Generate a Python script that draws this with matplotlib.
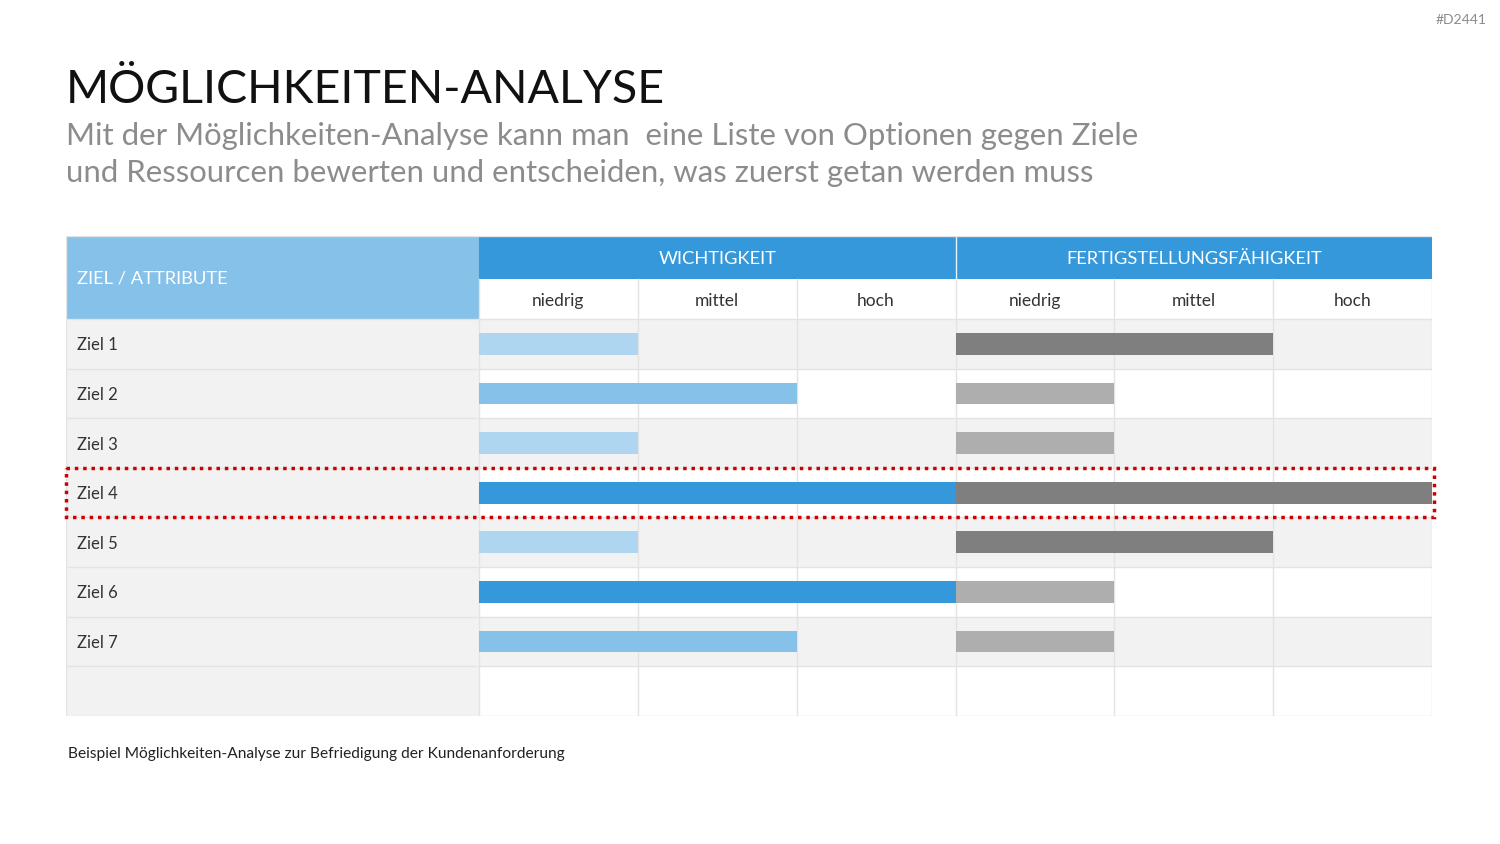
import matplotlib.pyplot as plt
from matplotlib.patches import Rectangle

plt.rcParams['font.family'] = ['Lato', 'DejaVu Sans']

# data
ziele = ["Ziel 1", "Ziel 2", "Ziel 3", "Ziel 4", "Ziel 5", "Ziel 6", "Ziel 7", ""]
stufen = ["niedrig", "mittel", "hoch"]
gruppen = ["WICHTIGKEIT", "FERTIGSTELLUNGSFÄHIGKEIT"]
wichtigkeit = [1, 2, 1, 3, 1, 3, 2]
fertigstellung = [2, 1, 1, 3, 2, 1, 1]
markiert = 3  # Ziel 4

blau = {1: "#AED6F1", 2: "#85C1E9", 3: "#3498DB"}
grau = {1: "#AEAEAE", 2: "#7F7F7F", 3: "#7F7F7F"}
linie = "#E3E3E3"

fig = plt.figure(figsize=(15, 8.44), dpi=100)

# title / subtitle
fig.text(0.044, 1 - 103 / 844, "MÖGLICHKEITEN-ANALYSE", fontsize=33.5, color="#111111", va="baseline")
fig.text(0.044, 1 - 145 / 844, "Mit der Möglichkeiten-Analyse kann man  eine Liste von Optionen gegen Ziele",
         fontsize=22.4, color="#8C8C8C", va="baseline")
fig.text(0.044, 1 - 182 / 844, "und Ressourcen bewerten und entscheiden, was zuerst getan werden muss",
         fontsize=22.4, color="#8C8C8C", va="baseline")
fig.text(0.991, 1 - 20 / 844, "#D2441", fontsize=10, color="#8C8C8C", ha="right", va="center")
fig.text(0.045, 1 - 754 / 844, "Beispiel Möglichkeiten-Analyse zur Befriedigung der Kundenanforderung",
         fontsize=11.2, color="#222222", va="center")

# table axes: x in column units, y in row units (0 = first data row)
ax = fig.add_axes([0.044, 0.1517, 0.9107, 0.5687])
lab_w = 2.6
h1, h2 = 0.867, 0.806
ax.set_xlim(-lab_w, 6)
ax.set_ylim(len(ziele), -(h1 + h2))
ax.axis("off")

n = len(ziele)
# row backgrounds
for i in range(n):
    ax.add_patch(Rectangle((-lab_w, i), lab_w, 1, fc="#F2F2F2", ec="none"))
    ax.add_patch(Rectangle((0, i), 6, 1, fc="#F2F2F2" if i % 2 == 0 else "white", ec="none"))
    ax.text(-lab_w + 0.07, i + 0.5, ziele[i], fontsize=12, color="#333333", va="center_baseline")

# header
ax.add_patch(Rectangle((-lab_w, -(h1 + h2)), lab_w, h1 + h2, fc="#85C1E9", ec="none"))
ax.text(-lab_w + 0.07, -(h1 + h2) / 2, "ZIEL / ATTRIBUTE", fontsize=13.2, color="white", va="center_baseline")
for g, name in enumerate(gruppen):
    ax.add_patch(Rectangle((3 * g, -(h1 + h2)), 3, h1, fc="#3498DB", ec="none"))
    ax.text(3 * g + 1.5, -(h1 + h2) + h1 / 2, name, fontsize=13.2, color="white",
            ha="center", va="center_baseline")
    for k, s in enumerate(stufen):
        ax.text(3 * g + k + 0.5, -h2 / 2, s, fontsize=12.5, color="#333333",
                ha="center", va="center_baseline")

# grid lines
for x in range(0, 7):
    ax.plot([x, x], [-h2, n], color=linie, lw=1)
ax.plot([3, 3], [-(h1 + h2), -h2], color="#E8F2FA", lw=1)
for y in range(0, n + 1):
    ax.plot([-lab_w, 6], [y, y], color=linie, lw=1)
ax.plot([-lab_w, -lab_w], [-(h1 + h2), n], color=linie, lw=1)
ax.plot([-lab_w, 6], [-(h1 + h2), -(h1 + h2)], color=linie, lw=1)

# bars
bh = 0.44
for i, (w, f) in enumerate(zip(wichtigkeit, fertigstellung)):
    ax.barh(i + 0.5, w, left=0, height=bh, color=blau[w], edgecolor="none", zorder=3)
    ax.barh(i + 0.5, f, left=3, height=bh, color=grau[f], edgecolor="none", zorder=3)

# highlight box
ax.add_patch(Rectangle((-lab_w, markiert), lab_w + 6.012, 1, fc="none", ec="#CC0000",
                       lw=2.5, ls=(0, (1, 1.4)), zorder=5, clip_on=False))

fig.savefig("out.png", dpi=100)
